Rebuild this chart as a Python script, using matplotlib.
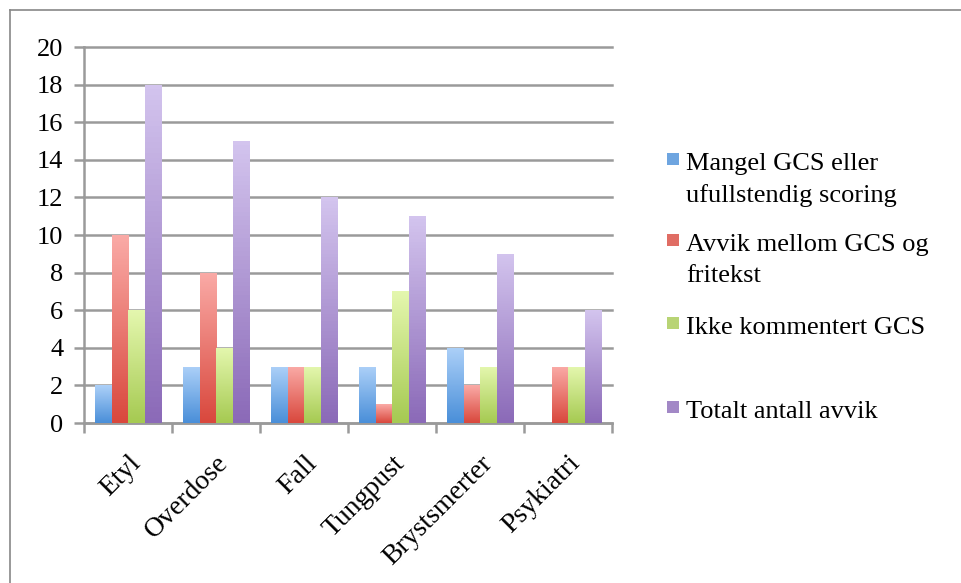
import numpy as np
import matplotlib
matplotlib.use('Agg')
import matplotlib.pyplot as plt
from matplotlib.colors import LinearSegmentedColormap
from matplotlib.patches import Rectangle
from matplotlib.lines import Line2D

plt.rcParams['font.family'] = ['Liberation Serif', 'DejaVu Serif']

categories = ['Etyl', 'Overdose', 'Fall', 'Tungpust', 'Brystsmerter', 'Psykiatri']
series_names = ['Mangel GCS eller\nufullstendig scoring',
                'Avvik mellom GCS og\nfritekst',
                'Ikke kommentert GCS',
                'Totalt antall avvik']
mangel = [2, 3, 3, 3, 4, 0]
avvik = [10, 8, 3, 1, 2, 3]
ikke_kommentert = [6, 4, 3, 7, 3, 3]
totalt = [18, 15, 12, 11, 9, 6]
series = [mangel, avvik, ikke_kommentert, totalt]

# (top colour, bottom colour) for each series gradient
grads = [('#acd0f8', '#4a8fd9'),
         ('#faaaa6', '#d9483d'),
         ('#e4f7ae', '#a6ca52'),
         ('#d3c4ee', '#8b6ab8')]

fig = plt.figure(figsize=(9.62, 5.83), dpi=100)
ax = fig.add_axes([84/962, 1 - 423/583, 528/962, 376/583])

x = np.arange(len(categories))
w = 0.1875
grid_col = '#9a9a9a'

ax.set_xlim(-0.5, len(categories) - 0.5)
ax.set_ylim(0, 20)

for i, vals in enumerate(series):
    bars = ax.bar(x + (i - 1.5) * w, vals, w, facecolor='none', edgecolor='none', zorder=3)
    cmap = LinearSegmentedColormap.from_list('g%d' % i, [grads[i][1], grads[i][0]])
    for b in bars:
        h = b.get_height()
        if h <= 0:
            continue
        x0 = b.get_x()
        img = ax.imshow(np.linspace(0, 1, 64).reshape(-1, 1), cmap=cmap, origin='lower',
                        extent=[x0, x0 + w, 0, h], aspect='auto', zorder=3)
        img.set_clip_path(b)

ax.set_xlim(-0.5, len(categories) - 0.5)
ax.set_ylim(0, 20)

ax.set_yticks(np.arange(0, 21, 2))
ax.yaxis.grid(True, color=grid_col, linewidth=1.8)
for gl in ax.yaxis.get_gridlines():
    gl.set_clip_on(False)
ax.set_axisbelow(True)
ax.set_xticks(np.arange(-0.5, len(categories)), minor=False)
ax.set_xticklabels([])
ax.set_xticks(x, minor=True)
ax.set_xticklabels(categories, minor=True, rotation=45, ha='right',
                   rotation_mode='anchor', fontsize=20)
ax.tick_params(axis='x', which='minor', length=0, pad=20)
ax.tick_params(axis='x', which='major', length=7, width=1.8, color=grid_col)
ax.tick_params(axis='y', length=7, width=1.8, color=grid_col, labelsize=19, pad=8)

for s in ['top', 'right']:
    ax.spines[s].set_visible(False)
for s in ['left', 'bottom']:
    ax.spines[s].set_color(grid_col)
    ax.spines[s].set_linewidth(1.8)

# legend drawn by hand to mimic the slot layout
leg_y = [153, 234, 317, 401]
for i, name in enumerate(series_names):
    yf = 1 - leg_y[i] / 583
    fig.patches.append(Rectangle((667/962, yf - 12/583), 12/962, 12/583,
                                 transform=fig.transFigure, facecolor=grads[i][1],
                                 edgecolor='none', alpha=0.8))
    fig.text(686/962, yf, name, fontsize=19, va='top', ha='left', linespacing=1.5)

# outer chart frame (only left and top edges are in view)
fig.add_artist(Line2D([10/962, 10/962], [0, 1 - 10/583], transform=fig.transFigure,
                      color='#888888', linewidth=1.2))
fig.add_artist(Line2D([10/962, 1], [1 - 10/583, 1 - 10/583], transform=fig.transFigure,
                      color='#888888', linewidth=1.2))

fig.savefig('out.png', dpi=100)
